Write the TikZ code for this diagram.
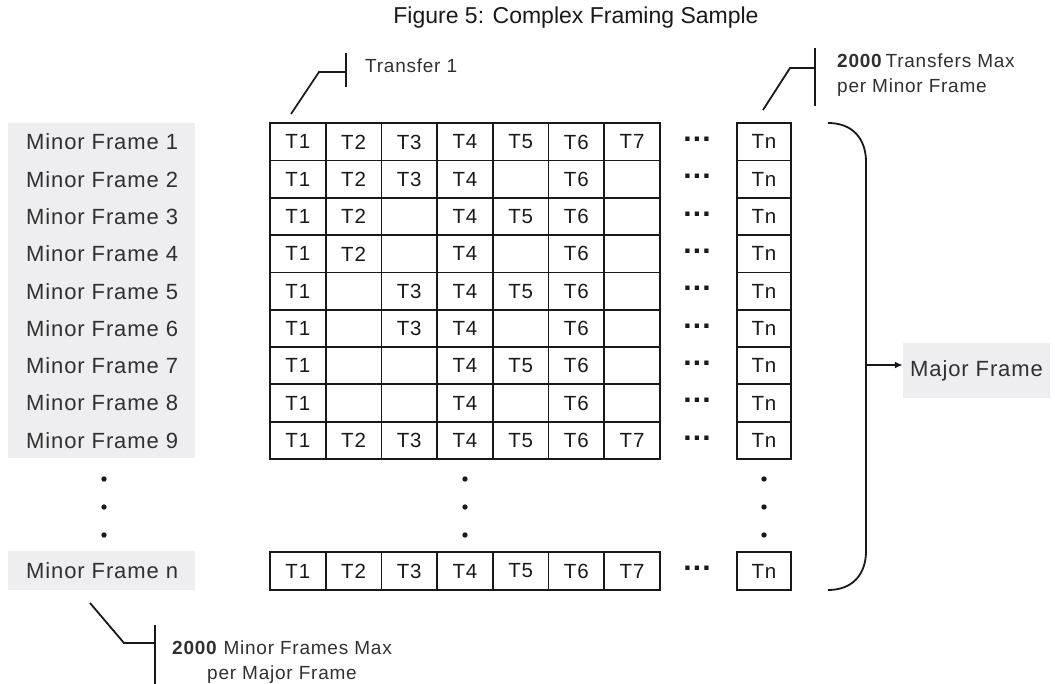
\documentclass[tikz,border=0pt]{standalone}
\usepackage{fontspec}
\setmainfont{Liberation Sans}[LetterSpace=4]
\newfontfamily\titlefont{Liberation Sans}
\usetikzlibrary{arrows.meta}
\definecolor{lblgray}{RGB}{238,238,240}
\definecolor{ink}{RGB}{25,25,25}
\begin{document}
\begin{tikzpicture}[x=1pt,y=-1pt,
  line/.style={draw=ink, line width=1.8pt},
  cell/.style={draw=ink, line width=1.8pt, minimum width=55.7pt, minimum height=37.3pt, inner sep=0pt, font=\fontsize{20.5}{20.5}\selectfont, text=ink},
  tncell/.style={cell, minimum width=54pt},
  lbl/.style={anchor=west, inner sep=0pt, font=\fontsize{22}{22}\selectfont, text=ink!90},
  ell/.style={inner sep=0pt, font=\bfseries\fontsize{30}{30}\selectfont, text=ink},
  callout/.style={inner sep=0pt, font=\fontsize{19}{25}\selectfont, text=ink!90},
  vdot/.style={fill=ink}]
\useasboundingbox (0,0) rectangle (1055,684);

% title
\node[font=\titlefont\fontsize{23}{23}\selectfont, text=ink] (title) at (576,18) {Figure 5: Complex Framing Sample};

% label backgrounds
\fill[lblgray] (8,123) rectangle (195,458);
\fill[lblgray] (8,551) rectangle (195,590);

% minor frame labels
\foreach \i/\yy in {1/141.95,2/179.25,3/216.55,4/253.85,5/291.15,6/328.45,7/365.75,8/403.05,9/440.35}
  \node[lbl] (m\i) at (26,\yy) {Minor Frame \i};
\node[lbl] (mn) at (26,571) {Minor Frame n};

% grid rows
\foreach \t [count=\c] in {T1,T2,T3,T4,T5,T6,T7} \node[cell] (c1-\c) at (242.15+55.7*\c,141.95) {\t};
\foreach \t [count=\c] in {T1,T2,T3,T4,{},T6,{}} \node[cell] (c2-\c) at (242.15+55.7*\c,179.25) {\t};
\foreach \t [count=\c] in {T1,T2,{},T4,T5,T6,{}} \node[cell] (c3-\c) at (242.15+55.7*\c,216.55) {\t};
\foreach \t [count=\c] in {T1,T2,{},T4,{},T6,{}} \node[cell] (c4-\c) at (242.15+55.7*\c,253.85) {\t};
\foreach \t [count=\c] in {T1,{},T3,T4,T5,T6,{}} \node[cell] (c5-\c) at (242.15+55.7*\c,291.15) {\t};
\foreach \t [count=\c] in {T1,{},T3,T4,{},T6,{}} \node[cell] (c6-\c) at (242.15+55.7*\c,328.45) {\t};
\foreach \t [count=\c] in {T1,{},{},T4,T5,T6,{}} \node[cell] (c7-\c) at (242.15+55.7*\c,365.75) {\t};
\foreach \t [count=\c] in {T1,{},{},T4,{},T6,{}} \node[cell] (c8-\c) at (242.15+55.7*\c,403.05) {\t};
\foreach \t [count=\c] in {T1,T2,T3,T4,T5,T6,T7} \node[cell] (c9-\c) at (242.15+55.7*\c,440.35) {\t};
\foreach \t [count=\c] in {T1,T2,T3,T4,T5,T6,T7} \node[cell] (cn-\c) at (242.15+55.7*\c,571) {\t};

% ellipsis and Tn column
\foreach \i/\yy in {1/141.95,2/179.25,3/216.55,4/253.85,5/291.15,6/328.45,7/365.75,8/403.05,9/440.35,n/571}{
  \node[ell] (e\i) at (697,\yy-2.5) {...};
  \node[tncell] (tn\i) at (764,\yy) {Tn};
}

% vertical dots
\foreach \xx in {104,465,764}
  \foreach \yy in {479,507,535}
    \fill[vdot] (\xx,\yy) circle (2.7);

% brace and major frame
\coordinate (btop) at (828,123);
\coordinate (bbot) at (828,590);
\coordinate (bmid) at (866,365);
\draw[line] (btop) .. controls (852,123) and (866,138) .. (866,162) -- (866,551) .. controls (866,575) and (852,590) .. (bbot);
\node[fill=lblgray, minimum width=147pt, minimum height=55pt, inner sep=0pt, font=\fontsize{22}{22}\selectfont, text=ink!90] (major) at (976.5,370.5) {Major Frame};
\draw[line, -{Latex[length=8pt,width=7pt]}] (bmid) -- (bmid -| major.west);

% callout: Transfer 1
\coordinate (t1a) at (291,114);
\coordinate (t1b) at (319,72);
\coordinate (t1c) at (346,72);
\draw[line] (t1a) -- (t1b) -- (t1c);
\draw[line] (346,53) -- (346,87);
\node[callout, anchor=west] (tr1) at (365,66) {Transfer 1};

% callout: 2000 Transfers Max
\coordinate (t2a) at (763,110);
\coordinate (t2b) at (790,68);
\coordinate (t2c) at (815,68);
\draw[line] (t2a) -- (t2b) -- (t2c);
\draw[line] (815,48) -- (815,106);
\node[callout, anchor=west, align=left] (trmax) at (837,75) {\textbf{2000}\,Transfers Max\\per Minor Frame};

% callout: 2000 Minor Frames Max
\coordinate (m2a) at (90,603);
\coordinate (m2b) at (124,643);
\coordinate (m2c) at (155,643);
\draw[line] (m2a) -- (m2b) -- (m2c);
\draw[line] (155,625) -- (155,684);
\node[callout, align=center] (mfmax) at (282,662) {\textbf{2000} Minor Frames Max\\per Major Frame};
\end{tikzpicture}
\end{document}
